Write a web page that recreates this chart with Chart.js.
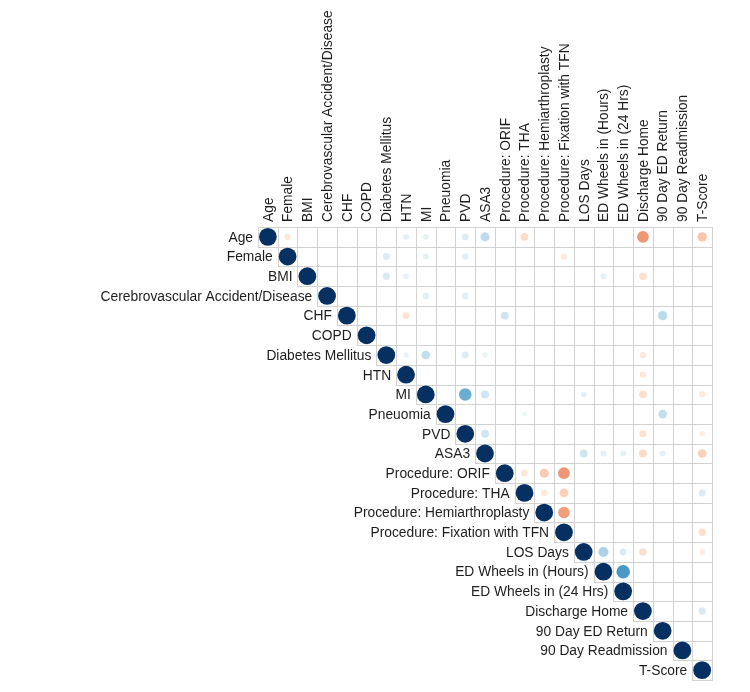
<!DOCTYPE html>
<html>
<head>
<meta charset="utf-8">
<script src="https://cdn.jsdelivr.net/npm/chart.js@4.4.0/dist/chart.umd.min.js"></script>
<style>
  html, body { margin: 0; padding: 0; background: #fff; }
  #wrap { width: 750px; height: 692px; }
</style>
</head>
<body>
<div id="wrap"><canvas id="corrChart" width="750" height="692"></canvas></div>
<script>
// variables, same order on both axes
var variables = [
  'Age', 'Female', 'BMI', 'Cerebrovascular Accident/Disease', 'CHF', 'COPD',
  'Diabetes Mellitus', 'HTN', 'MI', 'Pneuomia', 'PVD', 'ASA3',
  'Procedure: ORIF', 'Procedure: THA', 'Procedure: Hemiarthroplasty',
  'Procedure: Fixation with TFN', 'LOS Days', 'ED Wheels in (Hours)',
  'ED Wheels in (24 Hrs)', 'Discharge Home', '90 Day ED Return',
  '90 Day Readmission', 'T-Score'
];

// off-diagonal correlations (upper triangle)
var corrRow = [0,0,0,0,0,0,0,0,  1,1,1,1,  2,2,2,2,  3,3,  4,4,4,
               6,6,6,6,6,  7,  8,8,8,8,8,  9,9,  10,10,10,
               11,11,11,11,11,11,  12,12,12,  13,13,13,  14,  15,
               16,16,16,16,  17,  19];
var corrCol = [1,7,8,10,11,13,19,22,  6,8,10,15,  6,7,17,19,  8,10,  7,12,20,
               7,8,10,11,19,  19,  10,11,16,19,22,  13,20,  11,19,22,
               16,17,18,19,20,22,  13,14,15,  14,15,22,  15,  22,
               17,18,19,22,  18,  22];
var corrVal = [-0.13,0.11,0.11,0.15,0.26,-0.20,-0.44,-0.28,
               0.15,0.11,0.13,-0.12,
               0.17,0.10,0.11,-0.18,
               0.13,0.13,
               -0.15,0.20,0.27,
               0.09,0.24,0.15,0.09,-0.13,
               -0.13,
               0.50,0.20,0.11,-0.18,-0.12,
               0.07,0.24,
               0.20,-0.16,-0.10,
               0.20,0.11,0.11,-0.20,0.11,-0.24,
               -0.14,-0.26,-0.44,
               -0.13,-0.24,0.15,
               -0.42,
               -0.17,
               0.32,0.15,-0.18,-0.10,
               0.58,
               0.17];

// corrplot RdBu ramp
var rampColors = ['#67001F','#B2182B','#D6604D','#F4A582','#FDDBC7','#FFFFFF',
                  '#D1E5F0','#92C5DE','#4393C3','#2166AC','#053061'];

function hexToRgb(h) {
  return [parseInt(h.substr(1,2),16), parseInt(h.substr(3,2),16), parseInt(h.substr(5,2),16)];
}
function corrColor(v) {
  var t = (v + 1) / 2 * (rampColors.length - 1);
  var i = Math.min(Math.floor(t), rampColors.length - 2);
  var f = t - i;
  var a = hexToRgb(rampColors[i]), b = hexToRgb(rampColors[i + 1]);
  var c = a.map(function(x, k){ return Math.round(x + (b[k] - x) * f); });
  return 'rgb(' + c.join(',') + ')';
}

var points = [];
variables.forEach(function(name, i){
  points.push({x: i, y: i, v: 1});
});
corrVal.forEach(function(v, k){
  points.push({x: corrCol[k], y: corrRow[k], v: v});
});

var n = variables.length;
var labelFont = '13.8px "Liberation Sans", Arial, sans-serif';

// grid of the upper triangle + labels, drawn through the scales
var gridPlugin = {
  id: 'upperGrid',
  beforeDatasetsDraw: function(chart) {
    var xs = chart.scales.x, ys = chart.scales.y, ctx = chart.ctx;
    ctx.save();
    ctx.strokeStyle = '#d2d2d2';
    ctx.lineWidth = 1;
    for (var r = 0; r < n; r++) {
      for (var c = r; c < n; c++) {
        var x0 = Math.round(xs.getPixelForValue(c - 0.5)) + 0.5;
        var x1 = Math.round(xs.getPixelForValue(c + 0.5)) + 0.5;
        var y0 = Math.round(ys.getPixelForValue(r - 0.5)) + 0.5;
        var y1 = Math.round(ys.getPixelForValue(r + 0.5)) + 0.5;
        ctx.strokeRect(x0, y0, x1 - x0, y1 - y0);
      }
    }
    ctx.restore();
  },
  afterDraw: function(chart) {
    var xs = chart.scales.x, ys = chart.scales.y, ctx = chart.ctx;
    ctx.save();
    ctx.font = labelFont;
    ctx.fillStyle = '#1e1e1e';
    var top = ys.getPixelForValue(-0.5);
    variables.forEach(function(name, i){
      ctx.save();
      ctx.translate(xs.getPixelForValue(i) + 1, top - 5);
      ctx.rotate(-Math.PI / 2);
      ctx.textAlign = 'left';
      ctx.textBaseline = 'middle';
      ctx.fillText(name, 0, 0);
      ctx.restore();
    });
    ctx.textAlign = 'right';
    ctx.textBaseline = 'middle';
    variables.forEach(function(name, i){
      ctx.fillText(name, xs.getPixelForValue(i - 0.5) - 5, ys.getPixelForValue(i) + 1);
    });
    ctx.restore();
  }
};

function cellRadius(c) {
  var p = c.raw;
  if (!p || p.v === undefined) return 0;
  var xs = c.chart.scales.x;
  var cell = xs.getPixelForValue(1) - xs.getPixelForValue(0);
  return cell * 0.45 * Math.sqrt(Math.abs(p.v));
}
function cellColor(c) {
  var p = c.raw;
  if (!p || p.v === undefined) return 'rgba(0,0,0,0)';
  return corrColor(p.v);
}

var ctx = document.getElementById('corrChart').getContext('2d');
var chart = new Chart(ctx, {
  type: 'scatter',
  data: {
    datasets: [{
      data: points,
      showLine: false,
      pointBorderWidth: 0,
      pointBorderColor: 'rgba(0,0,0,0)',
      pointBackgroundColor: cellColor,
      pointRadius: cellRadius,
      pointHoverRadius: cellRadius
    }]
  },
  options: {
    responsive: false,
    animation: false,
    events: [],
    layout: { padding: { left: 258, right: 38, top: 227, bottom: 12 } },
    plugins: { legend: { display: false }, tooltip: { enabled: false } },
    scales: {
      x: { type: 'linear', min: -0.5, max: n - 0.5, display: false },
      y: { type: 'linear', min: -0.5, max: n - 0.5, reverse: true, display: false }
    }
  },
  plugins: [gridPlugin]
});
</script>
</body>
</html>
